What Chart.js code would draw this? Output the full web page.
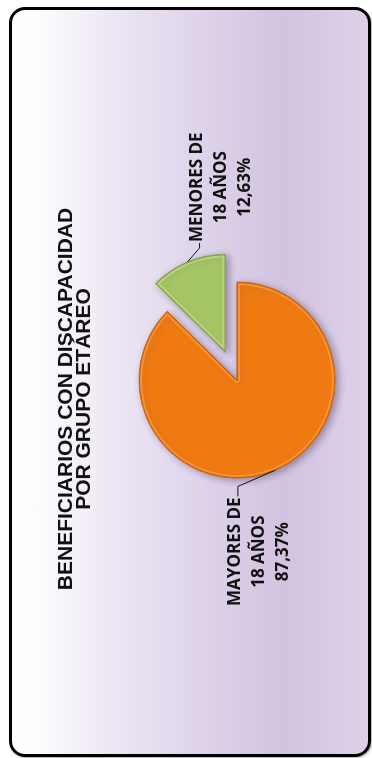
<!DOCTYPE html>
<html>
<head>
<meta charset="utf-8">
<script src="https://cdn.jsdelivr.net/npm/chart.js@4.4.1/dist/chart.umd.min.js"></script>
<style>
  html, body { margin: 0; padding: 0; background: #fff; }
  body { width: 372px; height: 758px; position: relative; overflow: hidden; }
  #frame {
    position: absolute; left: 9px; top: 7px; width: 362px; height: 750px;
    box-sizing: border-box; border: 3px solid #000; border-radius: 16px;
    background: linear-gradient(to right, #ffffff 0%, #fcfbfd 8%, #ece5f3 30%, #ddd2ea 55%, #d2c3e0 76%, #d8cbe5 90%, #ddd1e8 100%);
    box-shadow: 1px 1px 2px rgba(0, 0, 0, 0.35);
  }
  /* chart is drawn landscape and turned a quarter left */
  #rot {
    position: absolute; left: 9px; top: 7px; width: 750px; height: 362px;
    transform-origin: 0 0; transform: translate(0, 750px) rotate(-90deg);
  }
</style>
</head>
<body>
<div id="frame"></div>
<div id="rot"><canvas id="grupoChart" width="750" height="362"></canvas></div>
<script>
const categories = ['MAYORES DE 18 AÑOS', 'MENORES DE 18 AÑOS'];
const categoryLines = [['MAYORES DE', '18 AÑOS'], ['MENORES DE', '18 AÑOS']];
const percentages = [87.37, 12.63];
const titleLines = ['BENEFICIARIOS CON DISCAPACIDAD', 'POR GRUPO ETÁREO'];
const sliceColors = ['#f07a12', '#a6c565'];
const sliceBorders = ['#c86008', '#809f48'];
const sliceRims = ['rgba(255, 170, 80, 0.55)', 'rgba(200, 225, 150, 0.6)'];
const explode = [0, 30];

// pull slices out from the centre without growing their radius,
// plus a soft shadow and a light rim for the bevel look
const explodePlugin = {
    id: 'explodeSlices',
    afterUpdate(chart) {
        const meta = chart.getDatasetMeta(0);
        meta.data.forEach((arc, i) => {
            const mid = (arc.startAngle + arc.endAngle) / 2;
            arc.x += Math.cos(mid) * explode[i];
            arc.y += Math.sin(mid) * explode[i];
        });
    },
    beforeDatasetDraw(chart) {
        const ctx = chart.ctx;
        ctx.save();
        ctx.shadowColor = 'rgba(70, 50, 90, 0.45)';
        ctx.shadowBlur = 7;
        ctx.shadowOffsetX = -2;
        ctx.shadowOffsetY = 3;
    },
    afterDatasetDraw(chart) {
        const ctx = chart.ctx;
        ctx.restore();
        const meta = chart.getDatasetMeta(0);
        meta.data.forEach((arc, i) => {
            ctx.save();
            ctx.beginPath();
            ctx.moveTo(arc.x, arc.y);
            ctx.arc(arc.x, arc.y, arc.outerRadius, arc.startAngle, arc.endAngle);
            ctx.closePath();
            ctx.clip();
            ctx.lineJoin = 'round';
            ctx.strokeStyle = sliceRims[i];
            ctx.lineWidth = 6;
            ctx.stroke();
            ctx.strokeStyle = sliceBorders[i];
            ctx.lineWidth = 2;
            ctx.stroke();
            ctx.restore();
        });
    }
};

const sideTitle = {
    id: 'sideTitle',
    afterDraw(chart, args, opts) {
        const ctx = chart.ctx;
        ctx.save();
        ctx.font = opts.font;
        ctx.fillStyle = opts.color;
        ctx.textAlign = 'center';
        opts.lines.forEach((line, i) => ctx.fillText(line, opts.x, opts.y + i * opts.lineHeight));
        ctx.restore();
    }
};

// labels outside the pie with a bent leader line
const outsideLabels = {
    id: 'outsideLabels',
    afterDatasetsDraw(chart, args, opts) {
        const ctx = chart.ctx;
        const meta = chart.getDatasetMeta(0);
        ctx.save();
        ctx.font = opts.font;
        ctx.fillStyle = opts.color;
        ctx.strokeStyle = opts.color;
        ctx.lineWidth = 1;
        ctx.textAlign = 'center';
        meta.data.forEach((arc, i) => {
            const mid = (arc.startAngle + arc.endAngle) / 2;
            const px = arc.x + Math.cos(mid) * arc.outerRadius;
            const py = arc.y + Math.sin(mid) * arc.outerRadius;
            const leg = opts.legs[i];
            const ex = px + leg.dx;
            const ey = py + leg.dy;
            const hx = ex + leg.run;
            ctx.beginPath();
            ctx.moveTo(px, py);
            ctx.lineTo(ex, ey);
            ctx.lineTo(hx, ey);
            ctx.stroke();

            const lines = categoryLines[i].concat(percentages[i].toFixed(2).replace('.', ',') + '%');
            const w = Math.max(...lines.map(l => ctx.measureText(l).width));
            const cx = leg.run > 0 ? hx + 1 + w / 2 : hx - 1 - w / 2;
            lines.forEach((l, j) => ctx.fillText(l, cx, ey + 2 + j * opts.lineHeight));
        });
        ctx.restore();
    }
};

const ctx = document.getElementById('grupoChart').getContext('2d');
new Chart(ctx, {
    type: 'pie',
    data: {
        labels: categories,
        datasets: [{
            data: percentages,
            backgroundColor: sliceColors,
            borderColor: sliceBorders,
            borderWidth: 1
        }]
    },
    options: {
        responsive: false,
        animation: false,
        rotation: 90,
        radius: 98,
        layout: { padding: { left: 4, top: 94 } },
        plugins: {
            legend: { display: false },
            tooltip: { enabled: false },
            sideTitle: {
                lines: titleLines,
                x: 358, y: 63, lineHeight: 18,
                font: 'bold 21px "Liberation Sans", Arial, sans-serif',
                color: '#111'
            },
            outsideLabels: {
                font: 'bold 17px "Open Sans", sans-serif',
                color: '#111',
                lineHeight: 24,
                legs: [{ dx: -16, dy: -37, run: -10 }, { dx: 14, dy: 12, run: 5 }]
            }
        }
    },
    plugins: [explodePlugin, sideTitle, outsideLabels]
});
</script>
</body>
</html>
